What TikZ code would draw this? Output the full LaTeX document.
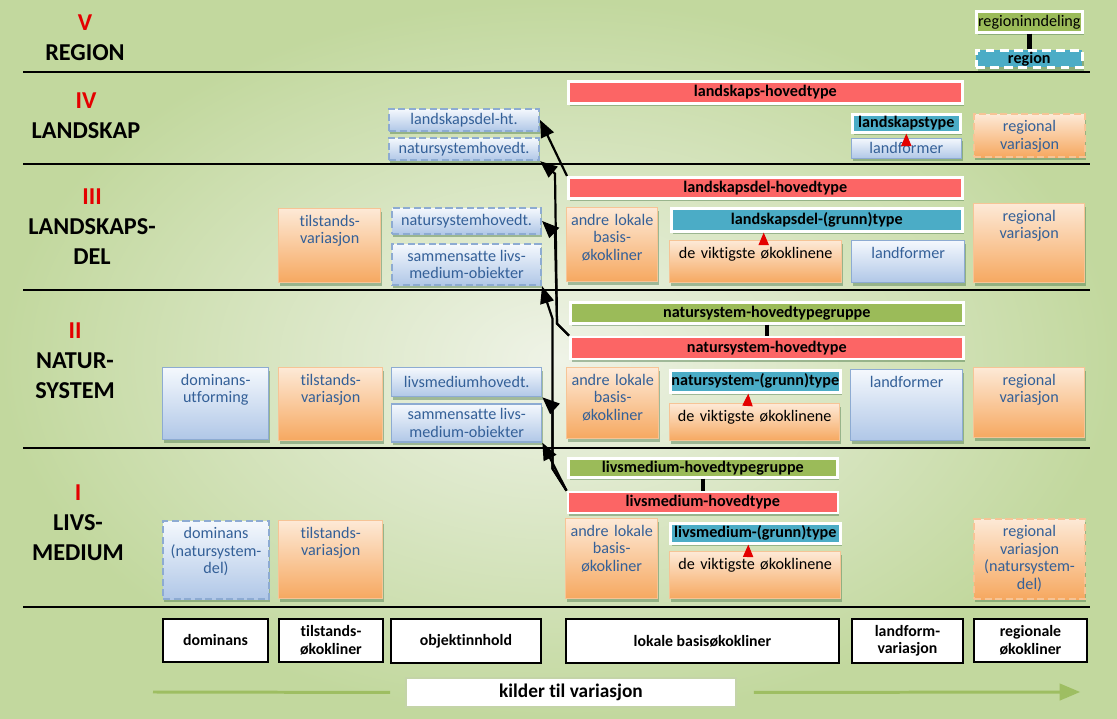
\documentclass[tikz,border=0pt]{standalone}
\usepackage{fontspec}
\setmainfont{Carlito}[Ligatures=NoCommon]
\usetikzlibrary{arrows, positioning, shadows}
\definecolor{hovedred}{RGB}{252,101,101}
\definecolor{grunnteal}{RGB}{75,172,198}
\definecolor{gruppegreen}{RGB}{155,187,89}
\definecolor{orlight}{RGB}{253,233,214}
\definecolor{ordark}{RGB}{246,168,96}
\definecolor{orline}{RGB}{246,196,150}
\definecolor{bllight}{RGB}{244,248,253}
\definecolor{bldark}{RGB}{176,199,231}
\definecolor{blline}{RGB}{141,171,210}
\definecolor{txtblue}{RGB}{52,96,152}
\definecolor{numred}{RGB}{228,0,0}
\definecolor{bgin}{RGB}{239,243,231}
\definecolor{bgout}{RGB}{194,216,158}
\definecolor{pilgreen}{RGB}{158,190,98}
\definecolor{kvline}{RGB}{196,212,168}
\newcommand\boxfont{\fontsize{9.2}{10}\selectfont}

\begin{document}
\begin{tikzpicture}[x=0.02cm, y=-0.02cm, font=\boxfont]
\tikzset{sz/.style 2 args={inner sep=0pt, minimum width=#1*0.02cm, minimum height=#2*0.02cm},
		toptext/.style 2 args={inner xsep=0pt, inner ysep=0.1cm, text width=#1*0.02cm, text height=0.25cm, text depth=#2*0.02cm-0.45cm},
		skygge/.style={drop shadow={shadow xshift=0.8pt, shadow yshift=-1.8pt, opacity=0.45, fill=black!55!green!40!gray}},
		hoved/.style={anchor=north west, fill=hovedred, draw=white, line width=1.5pt, font=\boxfont\bfseries, skygge},
		grunn/.style={anchor=north west, fill=grunnteal, draw=white, line width=1.5pt, font=\boxfont\bfseries, skygge},
		gruppe/.style={anchor=north west, fill=gruppegreen, draw=white, line width=1.5pt, skygge},
		orbox/.style={anchor=north west, align=center, top color=orlight, bottom color=ordark, draw=orline, line width=0.8pt, text=txtblue, skygge},
		bluebox/.style={anchor=north west, align=center, top color=bllight, bottom color=bldark, draw=blline, line width=0.8pt, text=txtblue, skygge},
		stiplet/.style={dash pattern=on 4pt off 2pt, line width=1.2pt},
		kilde/.style={anchor=north west, align=center, fill=white, draw=black, line width=1.1pt, font=\fontsize{9}{10}\selectfont\bfseries},
		niva/.style={align=center, font=\fontsize{13.8}{17}\selectfont\bfseries},
		pil/.style={-triangle 45, line width=1.25pt},
		rodpil/.style={-triangle 45, draw=numred, fill=numred, line width=0.6pt},
		gronnpil/.style={draw=pilgreen, line width=1.7pt}}
\useasboundingbox (0,0) rectangle (1117,719);
\shade[inner color=bgin, outer color=bgout] (0,0) rectangle (1117,719);
\foreach \y in {72,164,290,448,607}
	\draw[line width=1.2pt] (23,\y) -- (1090,\y);

\node[niva] (N5) at (85,38) {\textcolor{numred}{V}\\REGION};
\node[niva] (N4) at (86,116) {\textcolor{numred}{IV}\\LANDSKAP};
\node[niva] (N3) at (92,227) {\textcolor{numred}{III}\\LANDSKAPS-\\DEL};
\node[niva] (N2) at (75,361) {\textcolor{numred}{II}\\NATUR-\\SYSTEM};
\node[niva] (N1) at (78,523) {\textcolor{numred}{I}\\LIVS-\\MEDIUM};

\node[gruppe, sz={106}{21}] (RI) at (975,10) {regioninndeling};
\node[grunn, sz={106}{17}, dash pattern=on 5pt off 3pt, line width=2pt, below=0.3cm of RI] (RG) {region};
\draw[line width=2.5pt] (RI.south) -- (RG.north);

\node[hoved, sz={394}{22}] (LHT) at (567,80) {landskaps-hovedtype};
\node[bluebox, stiplet, sz={150}{22}] (LDH) at (388,108) {landskapsdel-ht.};
\node[bluebox, stiplet, sz={150}{22}, below=0.1cm of LDH] (NSH4) {natursystemhovedt.};
\node[grunn, sz={108}{18}] (LT) at (851,113) {landskapstype};
\node[bluebox, sz={110}{20}, below=0.08cm of LT] (LF4) {landformer};
\node[orbox, stiplet, toptext={111}{43}] (RV4) at (973,113) {regional\\variasjon};
\draw[rodpil] ([yshift=-0.1cm]LF4.north) -- (LT.south);

\node[hoved, sz={394}{21}] (LDHT) at (567,176) {landskapsdel-hovedtype};
\node[orbox, toptext={102}{74}] (TV3) at (278,208) {tilstands-\\variasjon};
\node[bluebox, stiplet, sz={149}{26}] (NSH3) at (391,207) {natursystemhovedt.};
\node[bluebox, stiplet, sz={149}{41}, below=0.16cm of NSH3] (SLM3) {sammensatte livs-\\medium-obiekter};
\node[orbox, toptext={91}{74}] (AL3) at (566,207) {andre lokale\\basis-\\økokliner};
\node[grunn, sz={291}{23}] (LGT) at (670,207) {landskapsdel-(grunn)type};
\node[orbox, toptext={172}{42}, text=black] (DV3) at (669,240) {de viktigste økoklinene};
\node[bluebox, toptext={113}{42}] (LF3) at (851,240) {landformer};
\node[orbox, toptext={111}{79}] (RV3) at (973,203) {regional\\variasjon};
\draw[rodpil] ([xshift=0.16cm]DV3.north) -- ([xshift=0.16cm]DV3.north |- LGT.south);

\node[gruppe, sz={393}{21}, font=\boxfont\bfseries] (NSG) at (569,301) {natursystem-hovedtypegruppe};
\node[hoved, sz={393}{22}, below=0.22cm of NSG] (NSHT) {natursystem-hovedtype};
\draw[line width=2.5pt] (NSG.south) -- (NSHT.north);
\node[bluebox, toptext={106}{72}] (DU) at (162,367) {dominans-\\utforming};
\node[orbox, toptext={104}{73}] (TV2) at (278,367) {tilstands-\\variasjon};
\node[bluebox, sz={150}{29}] (LMH2) at (391,367) {livsmediumhovedt.};
\node[bluebox, sz={150}{38}, below=0.12cm of LMH2] (SLM2) {sammensatte livs-\\medium-obiekter};
\node[orbox, toptext={92}{71}] (AL2) at (566,367) {andre lokale\\basis-\\økokliner};
\node[grunn, sz={170}{22}] (NGT) at (669,369) {natursystem-(grunn)type};
\node[orbox, toptext={170}{37}, text=black] (DV2) at (669,403) {de viktigste økoklinene};
\node[bluebox, toptext={112}{71}] (LF2) at (850,369) {landformer};
\node[orbox, toptext={111}{70}] (RV2) at (973,367) {regional\\variasjon};
\draw[rodpil] ([xshift=-0.14cm]DV2.north) -- ([xshift=-0.14cm]NGT.south);

\node[gruppe, sz={269}{19}, font=\boxfont\bfseries] (LMG) at (567,457) {livsmedium-hovedtypegruppe};
\node[hoved, sz={270}{21}, below=0.24cm of LMG] (LMHT) {livsmedium-hovedtype};
\draw[line width=2.5pt] (LMG.south) -- (LMHT.north);
\node[bluebox, stiplet, toptext={106}{78}] (DN1) at (162,520) {dominans\\(natursystem-\\del)};
\node[orbox, toptext={104}{78}] (TV1) at (278,520) {tilstands-\\variasjon};
\node[orbox, toptext={92}{80}] (AL1) at (565,518) {andre lokale\\basis-\\økokliner};
\node[grunn, sz={170}{20}] (LGT1) at (669,522) {livsmedium-(grunn)type};
\node[orbox, toptext={171}{47}, text=black] (DV1) at (669,551) {de viktigste økoklinene};
\node[orbox, stiplet, toptext={111}{80}] (RV1) at (973,518) {regional\\variasjon\\(natursystem-\\del)};
\draw[rodpil] ([xshift=-0.14cm]DV1.north) -- ([xshift=-0.14cm]LGT1.south);

\draw[pil] (LDHT.north west) -- (LDH.east);
\draw[pil] (NSHT.north west) -- ++(-12,-12) -- ++(-2,-150) -- (NSH4.south east);
\draw[pil] (NSHT.north west) -- ++(-12,-12) -- ++(-2,-90) -- (NSH3.east);
\draw[pil] (LMHT.north west) -- (SLM2.south east);
\draw[pil] (LMHT.north west) -- ++(-14,-22) -- ++(0,-62) -- (LMH2.south east);
\draw[pil] (LMHT.north west) -- ++(-14,-22) -- ++(0,-150) -- ++(-6,-18) -- (SLM3.south east);

\node[kilde, sz={105}{43}] (K1) at (162,618) {dominans};
\node[kilde, sz={104}{43}] (K2) at (278,618) {tilstands-\\økokliner};
\node[kilde, sz={150}{44}] (K3) at (390,618) {objektinnhold};
\node[kilde, sz={273}{44}] (K4) at (565,618) {lokale basisøkokliner};
\node[kilde, sz={111}{44}] (K5) at (851,618) {landform-\\variasjon};
\node[kilde, sz={113}{43}] (K6) at (973,618) {regionale\\økokliner};
\node[kilde, draw=kvline, sz={330}{29}, font=\fontsize{11}{12}\selectfont\bfseries] (KV) at (405,677) {kilder til variasjon};
\coordinate (ka) at (153,692);
\coordinate (kb) at (1080,692);
\draw[gronnpil] (ka) -- ([xshift=-0.3cm]KV.west);
\draw[gronnpil, -triangle 45] ([xshift=0.34cm]KV.east) -- (kb);
\end{tikzpicture}
\end{document}
